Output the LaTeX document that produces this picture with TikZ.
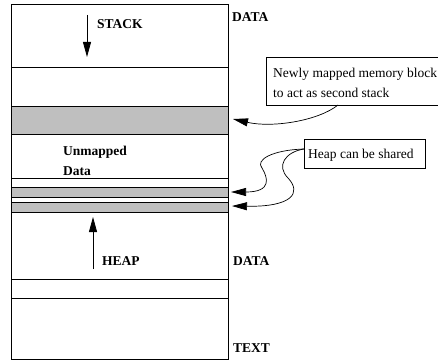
\documentclass[tikz,border=0pt]{standalone}
\usepackage{fontspec}
\setmainfont{Liberation Serif}
\usetikzlibrary{arrows.meta}
\begin{document}
\begin{tikzpicture}[x=1pt,y=-1pt,
  region/.style={draw=black,line width=0.9pt,inner sep=0pt,outer sep=0pt,minimum width=217pt,anchor=north west},
  shaded/.style={region,fill=black!25},
  lbl/.style={inner sep=0pt,anchor=base west,font=\fontsize{13.5}{16}\selectfont\bfseries},
  note/.style={draw=black,line width=0.7pt,inner sep=0pt,anchor=north west,fill=white},
  notetext/.style={inner sep=0pt,anchor=base west,font=\fontsize{13.5}{16}\selectfont},
  conn/.style={line width=0.7pt,-{Triangle[length=15pt,width=8pt]}},
  growth/.style={line width=0.8pt,-{Triangle[length=15pt,width=8pt]}}]
\useasboundingbox (0,0) rectangle (438,361);
% memory regions
\node[region,minimum height=63pt] (r1) at (11,4) {};
\node[region,minimum height=39pt] (r2) at (11,67) {};
\node[shaded,minimum height=28pt] (g1) at (11,106) {};
\node[region,minimum height=44pt] (r3) at (11,134) {};
\node[region,minimum height=9pt] (r4) at (11,178) {};
\node[shaded,minimum height=10pt] (g2) at (11,187) {};
\node[region,minimum height=5pt] (r5) at (11,197) {};
\node[shaded,minimum height=10pt] (g3) at (11,202) {};
\node[region,minimum height=67pt] (r6) at (11,212) {};
\node[region,minimum height=19pt] (r7) at (11,279) {};
\node[region,minimum height=61pt] (r8) at (11,298) {};
% labels inside
\node[lbl] (stack) at (97,29) {STACK};
\node[lbl] (unm) at (63,155) {Unmapped};
\node[lbl] (dat) at (63,175) {Data};
\node[lbl] (heap) at (102,265) {HEAP};
% labels outside
\node[lbl] (data1) at (232,22) {DATA};
\node[lbl] (data2) at (233,265) {DATA};
\node[lbl] (text) at (233,352) {TEXT};
% growth arrows
\coordinate (s0) at (87,15);
\coordinate (s1) at (87,57);
\draw[growth] (s0) -- (s1);
\coordinate (h0) at (93,269);
\coordinate (h1) at (93,217);
\draw[growth] (h0) -- (h1);
% notes
\node[note,minimum width=175pt,minimum height=48pt] (n1) at (266,57) {};
\node[notetext] (n1a) at (273,77) {Newly mapped memory block};
\node[notetext] (n1b) at (273,97) {to act as second stack};
\node[note,minimum width=121pt,minimum height=29pt] (n2) at (304,139) {};
\node[notetext] (n2a) at (308,158) {Heap can be shared};
% connectors
\coordinate (t1) at ([xshift=5pt,yshift=1pt]g1.east);
\coordinate (t2) at ([xshift=3pt,yshift=0pt]g2.east);
\coordinate (t3) at ([xshift=4pt,yshift=1pt]g3.east);
\coordinate (n1s) at (338,105);
\coordinate (n2w) at (304,149);
\draw[conn] (n1s) .. controls (318,121) and (272,128) .. (t1);
\draw[conn] (n2w) .. controls (272,150) and (255,160) .. (262,168)
                  .. controls (268,178) and (272,192) .. (t2);
\draw[conn] (n2w) .. controls (285,152) and (276,166) .. (288,178)
                  .. controls (302,193) and (292,207) .. (t3);
\end{tikzpicture}
\end{document}
